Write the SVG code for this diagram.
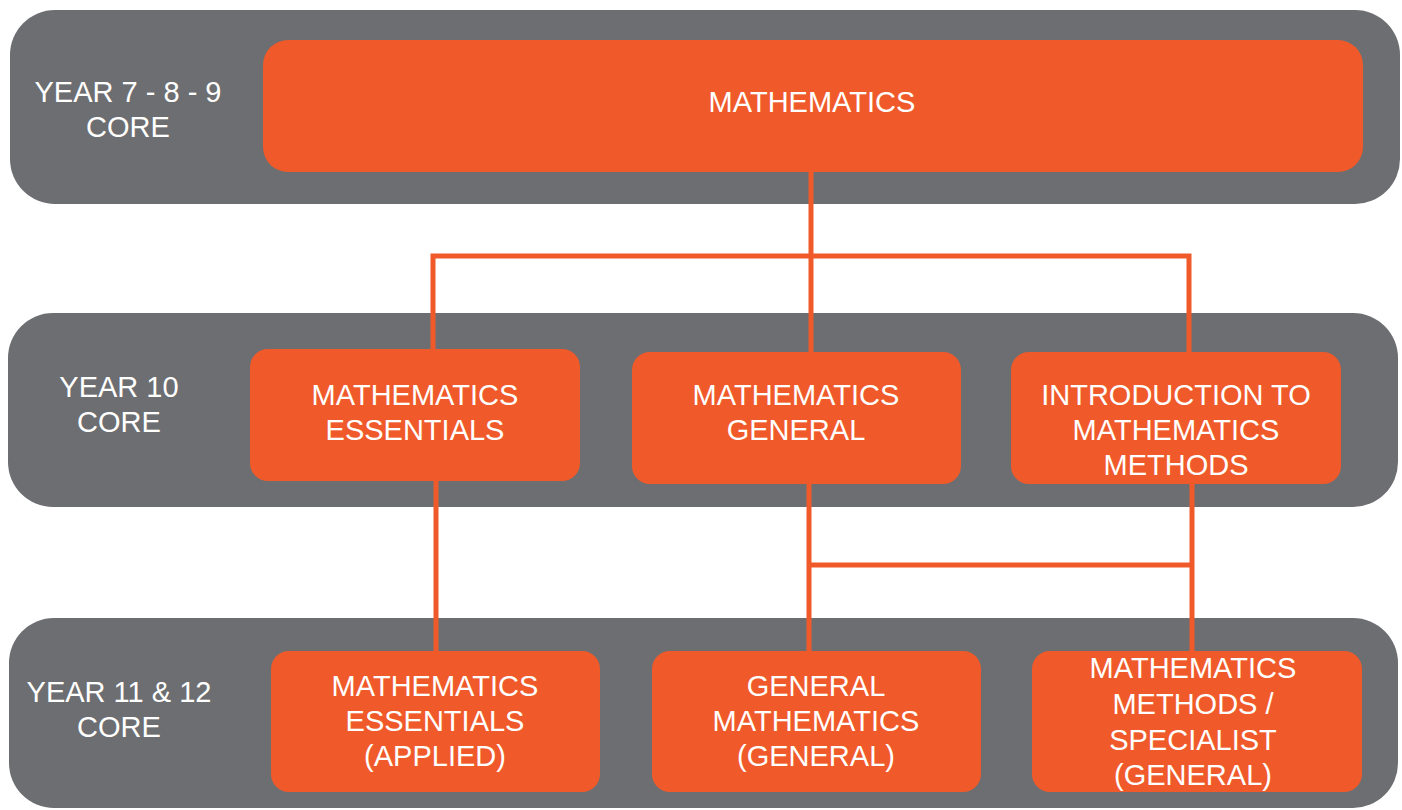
<svg xmlns="http://www.w3.org/2000/svg" width="1402" height="810" viewBox="0 0 1402 810">
<style>
.band{fill:#6D6E71}
.node{fill:#F05A2A}
.t{font-family:"Liberation Sans",Arial,sans-serif;font-size:29px;fill:#FFFFFF;text-anchor:middle}
.c{stroke:#F05A2A;stroke-width:5;fill:none}
</style>
<rect width="1402" height="810" fill="#FFFFFF"/>
<g id="band-1">
<rect class="band" x="10" y="10" width="1390" height="194" rx="45" ry="45"/>
<text class="t" x="128" y="102">YEAR 7 - 8 - 9</text>
<text class="t" x="128" y="137">CORE</text>
</g>
<g id="band-2">
<rect class="band" x="8" y="313" width="1390" height="194" rx="45" ry="45"/>
<text class="t" x="119" y="397">YEAR 10</text>
<text class="t" x="119" y="432">CORE</text>
</g>
<g id="band-3">
<rect class="band" x="9" y="618" width="1389" height="190" rx="45" ry="45"/>
<text class="t" x="119" y="702">YEAR 11 &amp; 12</text>
<text class="t" x="119" y="737">CORE</text>
</g>
<g id="connectors">
<path class="c" d="M811 172 V352"/>
<path class="c" d="M433 349 V256 H1189 V352"/>
<path class="c" d="M436 481 V651"/>
<path class="c" d="M809 484 V651"/>
<path class="c" d="M809 565 H1192"/>
<path class="c" d="M1192 484 V651"/>
</g>
<g id="mathematics">
<rect class="node" x="263" y="40" width="1100" height="132" rx="25" ry="25"/>
<text class="t" x="812" y="112">MATHEMATICS</text>
</g>
<g id="maths-essentials">
<rect class="node" x="250" y="349" width="330" height="132" rx="18" ry="18"/>
<text class="t" x="415" y="405">MATHEMATICS</text>
<text class="t" x="415" y="440">ESSENTIALS</text>
</g>
<g id="maths-general">
<rect class="node" x="632" y="352" width="329" height="132" rx="18" ry="18"/>
<text class="t" x="796" y="405">MATHEMATICS</text>
<text class="t" x="796" y="440">GENERAL</text>
</g>
<g id="intro-maths-methods">
<rect class="node" x="1011" y="352" width="330" height="132" rx="18" ry="18"/>
<text class="t" x="1176" y="405">INTRODUCTION TO</text>
<text class="t" x="1176" y="440">MATHEMATICS</text>
<text class="t" x="1176" y="475">METHODS</text>
</g>
<g id="maths-essentials-applied">
<rect class="node" x="271" y="651" width="329" height="141" rx="18" ry="18"/>
<text class="t" x="435" y="696">MATHEMATICS</text>
<text class="t" x="435" y="731">ESSENTIALS</text>
<text class="t" x="435" y="766">(APPLIED)</text>
</g>
<g id="general-mathematics">
<rect class="node" x="652" y="651" width="329" height="141" rx="18" ry="18"/>
<text class="t" x="816" y="696">GENERAL</text>
<text class="t" x="816" y="731">MATHEMATICS</text>
<text class="t" x="816" y="766">(GENERAL)</text>
</g>
<g id="methods-specialist">
<rect class="node" x="1032" y="651" width="330" height="141" rx="18" ry="18"/>
<text class="t" x="1193" y="678">MATHEMATICS</text>
<text class="t" x="1193" y="714">METHODS /</text>
<text class="t" x="1193" y="750">SPECIALIST</text>
<text class="t" x="1193" y="785">(GENERAL)</text>
</g>
</svg>
